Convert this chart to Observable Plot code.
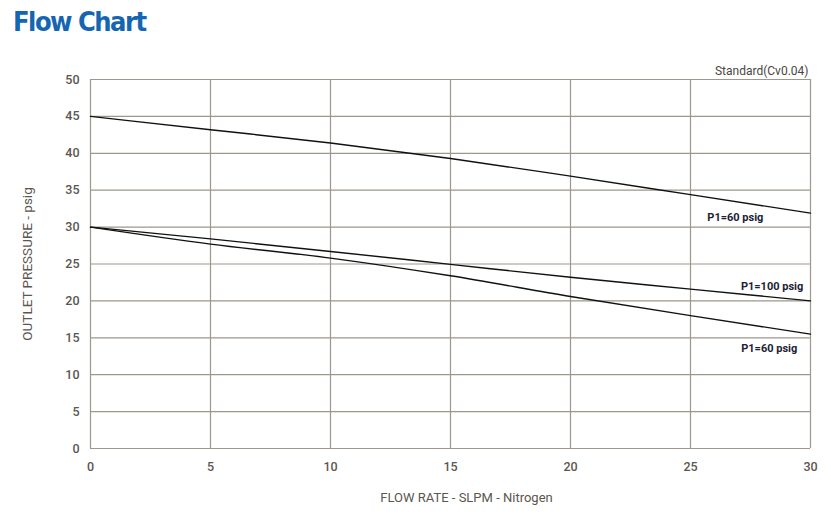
<!DOCTYPE html>
<html>
<head>
<meta charset="utf-8">
<script src="https://cdn.jsdelivr.net/npm/d3@7"></script>
<script src="https://cdn.jsdelivr.net/npm/@observablehq/plot@0.6"></script>
<style>
  html, body { margin: 0; padding: 0; background: #fff; }
  #wrap { position: relative; width: 831px; height: 523px; }
  #title { position: absolute; z-index: 2; left: 13px; top: 6px; font-family: "DejaVu Sans Condensed", "Liberation Sans", sans-serif; font-weight: bold; font-size: 27px; color: #1465b2; letter-spacing: -1.5px; }
</style>
</head>
<body>
<div id="wrap"><div id="title">Flow Chart</div></div>
<script>
const flow = [0, 5, 10, 15, 20, 25, 30];
const seriesNames = ["P1=60 psig (upper)", "P1=100 psig", "P1=60 psig (lower)"];
const upper60 = [45, 43.2, 41.4, 39.3, 36.9, 34.4, 31.9];
const p100 = [30, 28.4, 26.7, 24.95, 23.2, 21.6, 20.0];
const lower60 = [30, 27.7, 25.8, 23.4, 20.6, 18.0, 15.5];
const xTicks = [0, 5, 10, 15, 20, 25, 30];
const yTicks = [0, 5, 10, 15, 20, 25, 30, 35, 40, 45, 50];
const labelText = ["P1=60 psig", "P1=100 psig", "P1=60 psig"];
const labelX = [25.7, 29.7, 29.45];
const labelY = [31.3, 22.0, 13.5];
const labelAnchor = ["start", "end", "end"];
const xTitle = "FLOW RATE - SLPM - Nitrogen";
const yTitle = "OUTLET PRESSURE - psig";
const note = "Standard(Cv0.04)";

const allSeries = [upper60, p100, lower60];
const rows = allSeries.flatMap((vals, i) => vals.map((v, j) => ({series: seriesNames[i], x: flow[j], y: v})));
const labels = labelText.map((t, i) => ({t, x: labelX[i], y: labelY[i], a: labelAnchor[i]}));

const font = 'Roboto, "DejaVu Sans", sans-serif';
const gridColor = "#9d978d";
const textColor = "#5b5650";
const labelOpts = {x: "x", y: "y", text: "t", fontSize: 11, fontWeight: "bold", fill: "#1b2233"};

const chart = Plot.plot({
  width: 831,
  height: 523,
  marginLeft: 90,
  marginRight: 21,
  marginTop: 79,
  marginBottom: 75,
  style: {fontFamily: font, background: "transparent"},
  x: {domain: [0, 30]},
  y: {domain: [0, 50]},
  marks: [
    Plot.gridX(xTicks, {stroke: gridColor, strokeOpacity: 1, strokeWidth: 1.2}),
    Plot.gridY(yTicks, {stroke: gridColor, strokeOpacity: 1, strokeWidth: 1.2}),
    Plot.axisX({ticks: xTicks, tickSize: 0, tickPadding: 14, fontSize: 12.5, fontWeight: 500, fill: textColor, label: null}),
    Plot.axisY({ticks: yTicks, tickSize: 0, tickPadding: 11, fontSize: 12.5, fontWeight: 500, fill: textColor, label: null}),
    Plot.line(rows, {x: "x", y: "y", z: "series", stroke: "#111", strokeWidth: 1.4, curve: "monotone-x"}),
    Plot.text(labels.filter(d => d.a === "start"), {...labelOpts, textAnchor: "start"}),
    Plot.text(labels.filter(d => d.a === "end"), {...labelOpts, textAnchor: "end"}),
    Plot.text([xTitle], {frameAnchor: "bottom", textAnchor: "middle", dx: 16, dy: 53, fontSize: 13, fill: textColor}),
    Plot.text([yTitle], {frameAnchor: "left", textAnchor: "middle", dx: -63, rotate: -90, fontSize: 13.5, fill: textColor}),
    Plot.text([note], {frameAnchor: "top-right", dy: -13, dx: -2, textAnchor: "end", fontSize: 12, fill: "#4a4640"})
  ]
});
document.getElementById("wrap").appendChild(chart);
chart.style.position = "absolute";
chart.style.left = "0";
chart.style.top = "0";
</script>
</body>
</html>
